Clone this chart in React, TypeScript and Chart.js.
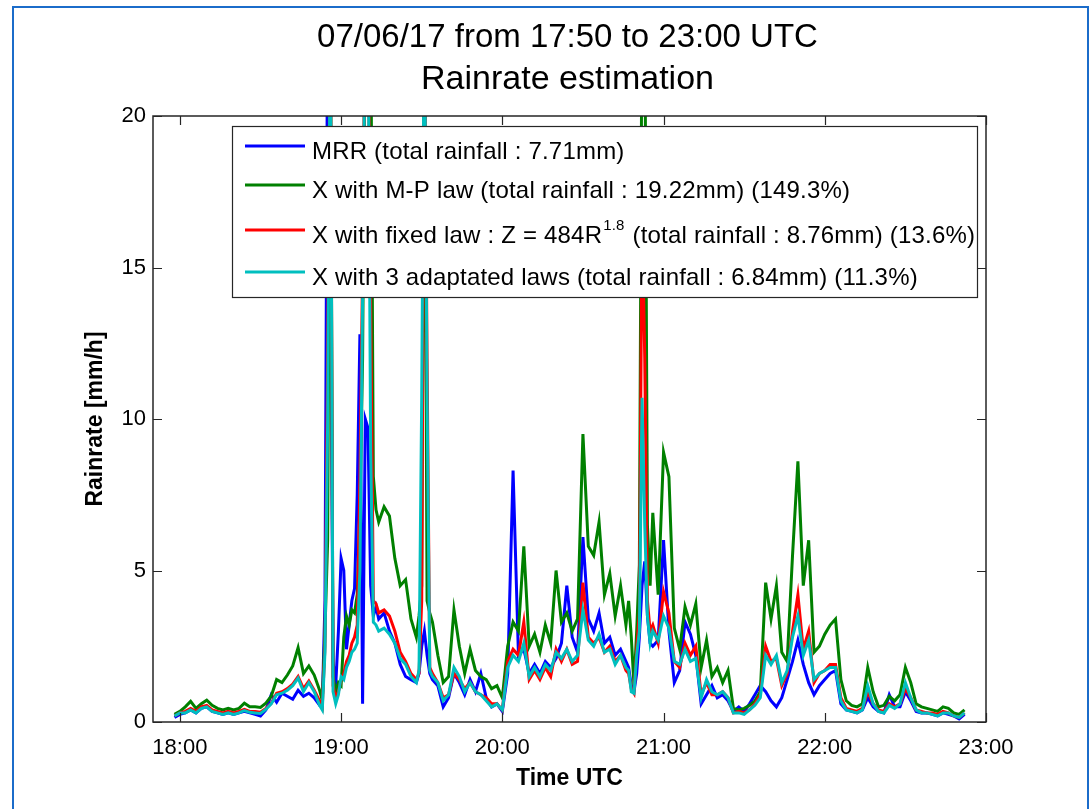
import { useEffect, useRef } from "react";
import { Chart, registerables } from "chart.js";

Chart.register(...registerables);

// Sample times, in minutes after 18:00 UTC (finer steps around the sharp peaks)
const minutes = [
  -2, 0, 2, 4, 6, 8, 10, 12, 14, 16, 18, 20, 22, 24, 26, 28, 30, 32, 34, 36, 38, 40, 42, 44, 46, 48, 50, 52,
  53, 54, 55, 56, 57, 58, 59, 60, 61, 62, 63, 64, 65, 66, 67, 68, 69, 70, 71, 72, 73, 74,
  76, 78, 80, 82, 84, 86, 88,
  89, 90, 91, 92, 93, 94,
  96, 98, 100, 102, 104, 106, 108, 110, 112, 114, 116, 118, 120, 122, 124, 126, 128, 130,
  132, 134, 136, 138, 140, 142, 144, 146, 148, 150, 152, 154, 156, 158, 160, 162, 164, 166,
  167, 168, 169, 170, 171, 172, 173, 174, 175, 176,
  178, 180, 182, 184, 186, 188, 190, 192, 194, 196, 198, 200, 202, 204, 206, 208, 210, 212, 214, 216,
  218, 220, 222, 224, 226, 228, 230, 232, 234, 236, 238, 240, 242, 244, 246, 248, 250, 252, 254, 256,
  258, 260, 262, 264, 266, 268, 270, 272, 274, 276, 278, 280, 282, 284, 286, 288, 290, 292,
];

// Rain rates in mm/h
const mrr = [
  0.15, 0.25, 0.3, 0.4, 0.3, 0.45, 0.5, 0.35, 0.3, 0.25, 0.3, 0.25, 0.3, 0.35, 0.3, 0.25, 0.2, 0.4, 0.9, 0.65, 0.95, 0.85, 0.75, 1.05, 0.85, 0.95, 0.8, 0.55,
  0.6, 4.0, 24, 16, 2.0, 1.2, 3.0, 5.4, 5.0, 2.4, 3.2, 4.0, 4.4, 7.5, 12.8, 0.6, 10, 9.7, 4.5, 3.5, 3.8, 3.4,
  3.6, 3.0, 2.6, 1.9, 1.5, 1.4, 1.3,
  1.6, 2.5, 3.0, 2.2, 1.6, 1.4,
  1.2, 0.5, 0.8, 1.6, 1.3, 0.9, 1.4, 1.0, 1.6, 0.8, 0.5, 0.6, 0.35, 1.6, 8.3, 2.2, 2.4, 1.6,
  1.9, 1.6, 2.0, 1.8, 2.1, 2.6, 4.5, 2.8, 2.3, 6.1, 3.4, 3.0, 3.6, 2.6, 2.8, 2.2, 2.4, 2.0,
  1.8, 1.2, 1.0, 1.6, 2.8, 4.5, 5.3, 3.5, 2.6, 2.5,
  2.7, 6.0, 3.0, 1.3, 1.7, 3.3, 2.9, 2.2, 0.6, 0.9, 1.2, 0.8, 0.9, 0.7, 0.35, 0.5, 0.35, 0.6, 0.9, 1.2,
  1.0, 0.7, 0.5, 0.8, 1.4, 2.0, 2.7, 1.9, 1.3, 0.9, 1.2, 1.4, 1.6, 1.7, 0.6, 0.4, 0.35, 0.3, 0.4, 0.8,
  0.5, 0.35, 0.3, 0.9, 0.5, 0.5, 1.0, 0.7, 0.35, 0.3, 0.3, 0.25, 0.2, 0.3, 0.25, 0.2, 0.1, 0.25,
];

const xMarshallPalmer = [
  0.25, 0.35, 0.5, 0.68, 0.45, 0.6, 0.72, 0.55, 0.45, 0.4, 0.45, 0.4, 0.45, 0.62, 0.5, 0.5, 0.48, 0.62, 0.85, 1.4, 1.3, 1.55, 1.85, 2.45, 1.6, 1.85, 1.55, 1.05,
  0.7, 3.0, 6, 24, 1.5, 1.0, 1.3, 1.2, 2.8, 3.5, 3.2, 3.7, 3.6, 4.2, 7.0, 12, 24, 24, 24, 8.1, 7.0, 6.6,
  7.1, 6.8, 5.4, 4.5, 4.7, 3.4, 2.8,
  3.5, 4.5, 24, 4.0, 3.6, 3.3,
  2.2, 1.3, 1.5, 3.7, 2.5, 1.6, 2.4, 1.7, 1.5, 1.4, 1.1, 1.2, 0.8, 2.5, 3.3, 3.0, 5.8, 2.5,
  2.9, 2.3, 3.2, 2.6, 5.0, 3.3, 3.6, 3.0, 3.4, 9.5, 5.8, 5.5, 6.6, 4.2, 4.9, 3.5, 4.5, 3.2,
  4.0, 2.8, 1.2, 3.0, 5.2, 24, 24, 6.5, 4.5, 6.9,
  4.2, 8.9, 8.1, 3.1, 2.4, 3.8, 3.2, 3.9, 1.8, 2.7, 1.5, 1.8, 1.3, 1.7, 0.45, 0.4, 0.45, 0.55, 0.7, 1.0,
  4.6, 3.4, 4.5, 2.3, 2.0, 5.5, 8.6, 4.5, 6.0, 2.3, 2.5, 2.9, 3.2, 3.4, 1.4, 0.7, 0.55, 0.5, 0.6, 1.8,
  1.0, 0.5, 0.55, 0.85, 0.7, 0.9, 1.8, 1.3, 0.6, 0.5, 0.45, 0.4, 0.35, 0.5, 0.45, 0.3, 0.25, 0.4,
];

const xFixedLaw = [
  0.2, 0.3, 0.35, 0.45, 0.35, 0.5, 0.55, 0.4, 0.35, 0.3, 0.35, 0.3, 0.35, 0.42, 0.35, 0.35, 0.32, 0.45, 0.62, 0.95, 1.0, 1.1, 1.25, 1.5, 1.1, 1.35, 1.05, 0.7,
  0.5, 2.5, 12, 24, 1.2, 0.8, 1.0, 1.4, 1.6, 2.0, 2.2, 2.6, 2.8, 3.2, 8, 15, 24, 24, 13.8, 4.0, 3.9, 3.6,
  3.7, 3.5, 3.0, 2.3, 2.0, 1.6, 1.4,
  1.6, 4.0, 24, 12, 1.8, 1.6,
  1.3, 0.8, 0.9, 1.6, 1.4, 1.1, 1.3, 1.0, 0.9, 0.8, 0.6, 0.6, 0.4, 2.0, 2.4, 2.2, 3.3, 1.4,
  1.7, 1.4, 1.8, 1.5, 2.4, 2.0, 2.4, 1.9, 2.0, 4.6, 2.8, 2.6, 2.8, 2.3, 2.5, 2.0, 2.2, 1.7,
  1.6, 1.1, 0.95, 2.4, 3.6, 17, 12, 4.0, 3.0, 3.2,
  2.6, 4.3, 3.6, 2.0, 1.8, 2.6, 2.2, 2.5, 0.9, 1.3, 0.9, 0.9, 1.0, 0.8, 0.3, 0.35, 0.3, 0.4, 0.6, 0.9,
  2.5, 2.0, 2.1, 1.2, 1.6, 3.0, 4.2, 2.4, 3.0, 1.3, 1.6, 1.7, 1.9, 1.9, 0.8, 0.45, 0.4, 0.35, 0.45, 1.0,
  0.6, 0.4, 0.35, 0.6, 0.5, 0.6, 1.1, 0.8, 0.4, 0.35, 0.3, 0.3, 0.25, 0.35, 0.3, 0.2, 0.15, 0.3,
];

const xAdaptedLaws = [
  0.2, 0.3, 0.3, 0.4, 0.3, 0.45, 0.5, 0.35, 0.3, 0.25, 0.3, 0.25, 0.3, 0.38, 0.32, 0.3, 0.28, 0.42, 0.6, 0.9, 0.95, 1.05, 1.2, 1.45, 1.0, 1.3, 1.0, 0.55,
  0.4, 2.3, 10, 24, 1.0, 0.6, 0.9, 1.5, 1.4, 1.8, 2.0, 2.3, 2.4, 2.6, 5, 14, 24, 24, 9, 3.3, 3.2, 3.0,
  3.1, 2.9, 2.6, 2.1, 1.9, 1.5, 1.3,
  1.7, 10.7, 24, 10.7, 1.7, 1.5,
  1.3, 0.7, 0.9, 1.8, 1.5, 1.0, 1.3, 1.0, 0.9, 0.7, 0.5, 0.6, 0.4, 1.8, 2.2, 2.0, 2.6, 1.5,
  1.8, 1.5, 1.9, 1.7, 2.3, 2.1, 2.4, 2.0, 2.2, 3.7, 2.7, 2.5, 2.9, 2.3, 2.4, 1.9, 2.2, 1.8,
  1.7, 1.0, 0.95, 2.2, 3.0, 10.7, 6.5, 3.5, 2.6, 3.0,
  2.7, 3.5, 3.1, 2.0, 1.9, 2.4, 2.0, 2.1, 0.8, 1.4, 1.0, 0.9, 1.0, 0.8, 0.3, 0.3, 0.25, 0.4, 0.55, 0.8,
  2.2, 1.9, 2.2, 1.3, 1.7, 2.8, 3.5, 2.2, 2.7, 1.4, 1.6, 1.7, 1.8, 1.8, 0.7, 0.4, 0.35, 0.3, 0.4, 1.2,
  0.6, 0.35, 0.3, 0.55, 0.45, 0.6, 1.3, 0.8, 0.4, 0.3, 0.3, 0.25, 0.2, 0.3, 0.3, 0.2, 0.15, 0.3,
];

const xTickMinutes = [0, 60, 120, 180, 240, 300];
const xTickLabels = ["18:00", "19:00", "20:00", "21:00", "22:00", "23:00"];
const yTickValues = [0, 5, 10, 15, 20];

const titleLines = ["07/06/17 from 17:50 to 23:00 UTC", "Rainrate estimation"];
const xAxisTitle = "Time UTC";
const yAxisTitle = "Rainrate [mm/h]";

// "^{...}" marks a superscript inside a legend entry
const seriesLabels = [
  "MRR (total rainfall : 7.71mm)",
  "X with M-P law (total rainfall : 19.22mm) (149.3%)",
  "X with fixed law : Z = 484R^{1.8} (total rainfall : 8.76mm) (13.6%)",
  "X with 3 adaptated laws (total rainfall : 6.84mm) (11.3%)",
];
const seriesValues = [mrr, xMarshallPalmer, xFixedLaw, xAdaptedLaws];
const seriesColors = ["#0000ff", "#008000", "#ff0000", "#00bfbf"];

const FONT = '"Liberation Sans", Arial, Helvetica, sans-serif';
const AXIS_COLOR = "#262626";
const TICK_LEN = 9;

const titlePlugin = {
  id: "stackedTitle",
  afterDraw(chart: any) {
    const { ctx, chartArea: a } = chart;
    const cx = (a.left + a.right) / 2 - 2;
    ctx.save();
    ctx.fillStyle = "#000";
    ctx.textAlign = "center";
    ctx.textBaseline = "middle";
    ctx.font = `33px ${FONT}`;
    ctx.fillText(titleLines[0], cx, a.top - 78);
    ctx.font = `34px ${FONT}`;
    ctx.fillText(titleLines[1], cx, a.top - 36);
    ctx.restore();
  },
};

// Closed axes box with inward tick marks on all four sides
const boxPlugin = {
  id: "axesBox",
  afterDatasetsDraw(chart: any) {
    const { ctx, chartArea: a, scales } = chart;
    ctx.save();
    ctx.strokeStyle = AXIS_COLOR;
    ctx.lineWidth = 1.5;
    ctx.strokeRect(a.left, a.top, a.right - a.left, a.bottom - a.top);
    ctx.beginPath();
    xTickMinutes.forEach((v) => {
      const px = Math.round(scales.x.getPixelForValue(v)) + 0.5;
      ctx.moveTo(px, a.bottom);
      ctx.lineTo(px, a.bottom - TICK_LEN);
      ctx.moveTo(px, a.top);
      ctx.lineTo(px, a.top + TICK_LEN);
    });
    yTickValues.forEach((v) => {
      const py = Math.round(scales.y.getPixelForValue(v)) + 0.5;
      ctx.moveTo(a.left, py);
      ctx.lineTo(a.left + TICK_LEN, py);
      ctx.moveTo(a.right, py);
      ctx.lineTo(a.right - TICK_LEN, py);
    });
    ctx.lineWidth = 1.2;
    ctx.stroke();
    ctx.restore();
  },
};

const legendPlugin = {
  id: "boxedLegend",
  afterDraw(chart: any) {
    const { ctx, chartArea: a } = chart;
    const left = a.left + 79;
    const top = a.top + 10;
    const right = a.right - 9;
    const bottom = a.top + 181;
    const rowCenters = [26, 65, 110, 152];
    ctx.save();
    ctx.fillStyle = "#fff";
    ctx.fillRect(left, top, right - left, bottom - top);
    ctx.strokeStyle = AXIS_COLOR;
    ctx.lineWidth = 1.2;
    ctx.strokeRect(left + 0.5, top + 0.5, right - left, bottom - top);
    (ctx as any).letterSpacing = "0.2px";
    chart.data.datasets.forEach((ds: any, i: number) => {
      const cy = top + rowCenters[i];
      ctx.strokeStyle = ds.borderColor;
      ctx.lineWidth = 3;
      ctx.beginPath();
      ctx.moveTo(left + 13, cy - 6);
      ctx.lineTo(left + 73, cy - 6);
      ctx.stroke();

      ctx.fillStyle = "#000";
      ctx.textAlign = "left";
      ctx.textBaseline = "middle";
      const main = `24px ${FONT}`;
      ctx.font = main;
      let x = left + 80;
      const m = /^(.*)\^\{(.*?)\}(.*)$/.exec(ds.label);
      if (m) {
        ctx.fillText(m[1], x, cy);
        x += ctx.measureText(m[1]).width + 1;
        ctx.font = `15px ${FONT}`;
        ctx.fillText(m[2], x, cy - 10);
        x += ctx.measureText(m[2]).width + 1;
        ctx.font = main;
        ctx.fillText(m[3], x, cy);
      } else {
        ctx.fillText(ds.label, x, cy);
      }
    });
    ctx.restore();
  },
};

export default function App() {
  const canvasRef = useRef<HTMLCanvasElement | null>(null);

  useEffect(() => {
    const canvas = canvasRef.current;
    if (!canvas) return;

    const datasets = seriesLabels.map((label, i) => ({
      label,
      data: minutes.map((m, k) => ({ x: m, y: seriesValues[i][k] })),
      borderColor: seriesColors[i],
      backgroundColor: seriesColors[i],
      borderWidth: 3,
      pointRadius: 0,
      pointHoverRadius: 0,
      tension: 0,
      fill: false,
      order: seriesLabels.length - 1 - i,
    }));

    const chart = new Chart(canvas, {
      type: "line",
      data: { datasets },
      options: {
        responsive: false,
        animation: false,
        events: [],
        layout: { padding: { top: 116, right: 104, bottom: 0, left: 0 } },
        plugins: {
          legend: { display: false },
          title: { display: false },
          tooltip: { enabled: false },
        },
        scales: {
          x: {
            type: "linear",
            min: -10,
            max: 300,
            afterBuildTicks: (s: any) => {
              s.ticks = xTickMinutes.map((v) => ({ value: v }));
            },
            afterFit: (s: any) => {
              s.height = 87;
            },
            grid: { display: false, drawTicks: false },
            border: { display: false },
            ticks: {
              autoSkip: false,
              maxRotation: 0,
              padding: 13,
              color: "#000",
              font: { family: FONT, size: 22 },
              callback: (v: any) => xTickLabels[xTickMinutes.indexOf(Number(v))] ?? "",
            },
            title: {
              display: true,
              text: xAxisTitle,
              color: "#000",
              font: { family: FONT, size: 23, weight: "bold" },
              padding: { top: 0, bottom: 17 },
            },
          },
          y: {
            type: "linear",
            min: 0,
            max: 20,
            afterBuildTicks: (s: any) => {
              s.ticks = yTickValues.map((v) => ({ value: v }));
            },
            afterFit: (s: any) => {
              s.width = 153;
            },
            grid: { display: false, drawTicks: false },
            border: { display: false },
            ticks: {
              padding: 7,
              color: "#000",
              font: { family: FONT, size: 22 },
            },
            title: {
              display: true,
              text: yAxisTitle,
              color: "#000",
              font: { family: FONT, size: 23, weight: "bold" },
              padding: { top: 82, bottom: 0 },
            },
          },
        },
      },
      plugins: [titlePlugin, boxPlugin, legendPlugin],
    } as any);

    return () => chart.destroy();
  }, []);

  return (
    <div
      style={{
        position: "fixed",
        left: 0,
        top: 0,
        width: 1090,
        height: 809,
        overflow: "hidden",
        background: "#fff",
      }}
    >
      <div
        style={{
          position: "absolute",
          left: 12,
          top: 6,
          width: 1073,
          height: 900,
          border: "2px solid #1b6cca",
          background: "#fff",
        }}
      />
      <canvas
        ref={canvasRef}
        width={1090}
        height={809}
        style={{ position: "absolute", left: 0, top: 0, width: 1090, height: 809, display: "block" }}
      />
    </div>
  );
}
